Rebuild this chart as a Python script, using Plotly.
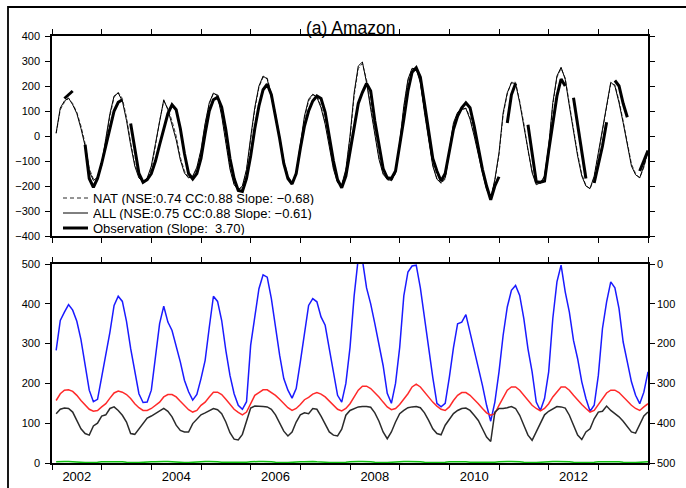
import numpy as np
import plotly.graph_objects as go

# Monthly time axis (decimal years), Feb 2002 .. Jan 2014
months = np.arange(1, 145)
t = 2002 + months / 12.0

# ---- upper panel: TWS anomaly (mm) ----
nat = [10, 105, 135, 150, 130, 95, 40, -30, -130, -172, -170, -120,
       -20, 80, 155, 175, 150, 75, -25, -110, -160, -185, -175, -130,
       -40, 60, 140, 110, 60, 0, -85, -140, -165, -165, -130, -60,
       45, 128, 170, 165, 90, -15, -125, -190, -218, -205, -140, -15,
       105, 195, 235, 232, 170, 90, 0, -95, -160, -185, -150, -50,
       70, 140, 165, 160, 120, 55, -30, -125, -180, -198, -140, -10,
       160, 270, 290, 225, 120, 10, -85, -148, -175, -180, -150, -35,
       110, 220, 268, 270, 220, 100, -5, -112, -170, -190, -172, -60,
       45, 90, 105, 112, 75, 10, -70, -140, -208, -245, -180, -75,
       85, 168, 215, 215, 140, 50, -58, -140, -190, -190, -165, -50,
       125, 235, 270, 232, 128, 22, -72, -152, -198, -212, -165, -75,
       20, 125, 210, 205, 140, 60, -32, -112, -150, -168, -125, -65]

all_forcing = [12, 112, 140, 152, 125, 90, 30, -40, -140, -178, -165, -110,
               -10, 90, 160, 172, 140, 62, -35, -120, -168, -182, -168, -120,
               -30, 65, 145, 105, 50, -15, -95, -148, -168, -160, -125, -55,
               50, 133, 172, 160, 80, -25, -133, -195, -215, -200, -133, -5,
               115, 200, 240, 228, 160, 80, -13, -107, -167, -187, -147, -40,
               80, 147, 167, 155, 113, 47, -40, -133, -187, -195, -133, 0,
               173, 280, 296, 213, 107, 0, -93, -153, -173, -178, -147, -27,
               120, 227, 271, 267, 213, 93, -13, -120, -173, -187, -168, -50,
               53, 95, 107, 110, 67, 0, -80, -147, -213, -250, -173, -67,
               93, 173, 213, 210, 133, 40, -67, -147, -195, -187, -160, -40,
               133, 240, 275, 227, 120, 13, -80, -160, -200, -210, -160, -67,
               27, 133, 215, 200, 133, 53, -40, -120, -155, -167, -120, -60]

observation = [None, None, 150, 165, 180, None, None, -35, -170, -205, -170, -110,
               -40, 20, 100, 135, 145, None, 50, -60, -150, -185, -175, -150,
               -100, -35, 25, 90, 125, 105, 30, -70, -150, -172, -150, -90,
               10, 100, 145, 155, 115, 25, -90, -170, -218, -222, -170, -80,
               30, 120, 185, 207, 165, 80, -10, -110, -170, -192, -150, -50,
               40, 100, 140, 160, 150, 95, 0, -100, -175, -207, -160, -60,
               40, 130, 175, 210, 180, 60, -35, -130, -167, -170, -140, -40,
               67, 180, 255, 273, 235, 130, 10, -90, -140, -180, -150, -60,
               27, 80, 113, 133, 113, 40, -53, -133, -200, -255, -200, -163,
               None, 52, 165, 210, None, None, 45, -70, -183, -185, -180, -60,
               60, 160, 228, 200, None, 153, 45, -65, -170, None, -188, -120,
               -40, 55, None, 222, 200, 130, 75, None, None, -140, -100, -58]

# ---- lower panel: basin water budget terms ----
blue_series = [283, 358, 379, 398, 384, 356, 310, 248, 183, 154, 160, 216,
               270, 329, 396, 419, 406, 356, 288, 228, 174, 152, 153, 183,
               262, 350, 394, 354, 333, 296, 254, 208, 179, 158, 172, 212,
               258, 341, 419, 406, 358, 283, 220, 174, 145, 135, 154, 296,
               371, 438, 473, 467, 413, 338, 271, 212, 183, 163, 187, 254,
               329, 396, 413, 405, 367, 346, 287, 229, 170, 153, 200, 290,
               420, 515, 510, 440, 400, 350, 300, 245, 175, 150, 200, 290,
               420, 480, 495, 497, 440, 370, 290, 215, 150, 141, 150, 215,
               290, 350, 354, 373, 329, 287, 245, 195, 145, 105, 153, 229,
               321, 392, 434, 446, 421, 363, 287, 229, 153, 132, 162, 229,
               363, 455, 497, 430, 379, 308, 262, 204, 162, 130, 145, 220,
               338, 405, 455, 440, 388, 304, 254, 204, 170, 149, 178, 229]

red_series = [157, 174, 183, 184, 180, 170, 157, 145, 135, 130, 132, 141,
              149, 163, 176, 181, 178, 172, 162, 149, 139, 132, 132, 137,
              145, 153, 166, 172, 172, 166, 155, 145, 134, 128, 132, 145,
              153, 166, 178, 178, 172, 160, 147, 135, 127, 121, 128, 149,
              170, 177, 184, 184, 178, 170, 160, 149, 139, 132, 137, 147,
              159, 165, 173, 177, 173, 166, 155, 145, 135, 131, 137, 149,
              166, 183, 193, 193, 187, 177, 166, 153, 141, 134, 137, 147,
              160, 174, 191, 198, 191, 178, 166, 153, 143, 135, 132, 141,
              157, 170, 177, 177, 170, 160, 149, 137, 126, 120, 124, 145,
              166, 183, 191, 191, 183, 170, 157, 145, 137, 131, 137, 149,
              166, 180, 191, 191, 183, 170, 157, 147, 137, 128, 132, 147,
              162, 176, 183, 183, 177, 166, 155, 145, 137, 132, 141, 149]

black_series = [124, 135, 138, 137, 128, 105, 86, 74, 70, 93, 100, 118,
                121, 137, 141, 132, 120, 103, 74, 72, 86, 99, 113, 118,
                124, 132, 137, 130, 116, 95, 82, 78, 78, 99, 111, 121,
                126, 132, 137, 134, 124, 103, 76, 60, 58, 72, 105, 138,
                143, 143, 142, 141, 135, 121, 101, 80, 68, 78, 103, 121,
                126, 124, 137, 135, 118, 97, 78, 70, 68, 85, 120, 132,
                137, 141, 142, 142, 140, 126, 105, 78, 61, 78, 103, 124,
                132, 139, 141, 142, 139, 126, 107, 86, 74, 71, 95, 111,
                124, 132, 137, 138, 132, 120, 107, 86, 65, 54, 128, 137,
                137, 139, 142, 137, 120, 95, 70, 57, 78, 103, 121, 130,
                137, 142, 141, 138, 120, 95, 70, 59, 78, 86, 111, 128,
                130, 143, 132, 124, 116, 105, 90, 78, 75, 95, 118, 128]

green_series = [3, 4, 4, 4, 3, 2, 2, 1, 1, 1, 2, 3,
                3, 4, 4, 3, 3, 2, 1, 1, 1, 2, 2, 3,
                3, 4, 4, 4, 3, 2, 1, 1, 1, 2, 2, 3,
                4, 4, 4, 3, 2, 2, 1, 1, 1, 1, 2, 3,
                4, 4, 4, 4, 3, 2, 1, 1, 1, 2, 2, 3,
                3, 4, 4, 3, 3, 2, 1, 1, 1, 1, 2, 3,
                4, 4, 4, 4, 3, 2, 1, 1, 1, 2, 2, 3,
                4, 4, 4, 3, 3, 2, 1, 1, 1, 1, 2, 3,
                3, 4, 4, 3, 2, 2, 1, 1, 1, 1, 2, 3,
                4, 4, 4, 4, 3, 2, 1, 1, 1, 2, 2, 3,
                4, 4, 4, 3, 3, 2, 1, 1, 1, 1, 2, 3,
                3, 4, 4, 4, 3, 2, 1, 1, 1, 2, 2, 3]

legend_nat = "NAT (NSE:0.74 CC:0.88 Slope: \u22120.68)"
legend_all = "ALL (NSE:0.75 CC:0.88 Slope: \u22120.61)"
legend_obs = "Observation (Slope:\u00a0 3.70)"

year_ticks = list(range(2002, 2015))
label_years = [2002, 2004, 2006, 2008, 2010, 2012]

FONT = "Liberation Sans, Arial, sans-serif"

# pixel -> paper helpers for the figure frame and the key
L, R, T, B = 52, 38, 36, 25
W, H = 686, 488
PW, PH = W - L - R, H - T - B


def px_x(px):
    return (px - L) / PW


def px_y(py):
    return (H - B - py) / PH


nat_style = dict(color="#2a2a2a", width=0.9, dash="4px,2px")
all_style = dict(color="black", width=1.0)
obs_style = dict(color="black", width=3.0)

fig = go.Figure()

# upper panel
fig.add_trace(go.Scatter(x=t, y=nat, name=legend_nat, mode="lines",
                         line=nat_style, xaxis="x", yaxis="y"))
fig.add_trace(go.Scatter(x=t, y=all_forcing, name=legend_all, mode="lines",
                         line=all_style, xaxis="x", yaxis="y"))
fig.add_trace(go.Scatter(x=t, y=observation, name=legend_obs, mode="lines",
                         line=obs_style, connectgaps=False, xaxis="x", yaxis="y"))

# lower panel
for ys, col in [(blue_series, "#1a1aff"), (red_series, "#ff2a2a"),
                (black_series, "#2b2b2b"), (green_series, "#10c010")]:
    fig.add_trace(go.Scatter(x=t, y=ys, mode="lines",
                             line=dict(color=col, width=1.5),
                             xaxis="x2", yaxis="y2"))

# reversed right-hand scale of the lower panel (carries no marks)
fig.add_trace(go.Scatter(x=[], y=[], mode="lines", hoverinfo="skip",
                         xaxis="x2", yaxis="y3"))

axis_common = dict(showline=True, linecolor="black", linewidth=1.6,
                   showgrid=False, zeroline=False, ticks="outside",
                   ticklen=5, tickwidth=1.2, tickcolor="black",
                   automargin=False)

top_y0 = px_y(236)
bot_y1 = px_y(264)

# hand-placed key inside the upper panel
key_rows = [(198, legend_nat, dict(color="#2a2a2a", width=1.0, dash="4px,3px")),
            (213, legend_all, dict(color="black", width=1.0)),
            (228, legend_obs, dict(color="black", width=3.0))]
key_shapes = [dict(type="line", xref="paper", yref="paper",
                   x0=px_x(63), x1=px_x(88), y0=px_y(py), y1=px_y(py), line=ln)
              for py, _, ln in key_rows]
key_texts = [dict(text=txt, x=px_x(92), y=px_y(py), xref="paper", yref="paper",
                  xanchor="left", yanchor="middle", showarrow=False,
                  height=13, valign="middle", borderpad=0,
                  font=dict(size=13, family=FONT))
             for py, txt, _ in key_rows]

fig.update_layout(
    width=W, height=H,
    margin=dict(l=L, r=R, t=T, b=B, autoexpand=False),
    paper_bgcolor="white", plot_bgcolor="white",
    font=dict(family=FONT, color="black"),
    showlegend=False,
    xaxis=dict(domain=[0, 1], anchor="y", range=[2002, 2014],
               tickvals=year_ticks, showticklabels=False, mirror="ticks",
               **axis_common),
    yaxis=dict(domain=[top_y0, 1], anchor="x", range=[-400, 400],
               tickvals=list(range(-400, 401, 100)), mirror="ticks",
               ticklabelstandoff=3, tickfont=dict(size=11), **axis_common),
    xaxis2=dict(domain=[0, 1], anchor="y2", range=[2002, 2014],
                tickvals=[y + 0.5 for y in label_years],
                ticktext=[str(y) for y in label_years],
                tickfont=dict(size=13), mirror="ticks", ticklabelstandoff=1,
                minor=dict(tickvals=year_ticks, ticks="outside", ticklen=5,
                           tickwidth=1.2, tickcolor="black"),
                **{**axis_common, "ticks": "", "ticklen": 0}),
    yaxis2=dict(domain=[0, bot_y1], anchor="x2", range=[0, 500],
                tickvals=list(range(0, 501, 100)), mirror=True,
                ticklabelstandoff=3, tickfont=dict(size=11), **axis_common),
    yaxis3=dict(overlaying="y2", anchor="x2", side="right", range=[500, 0],
                tickvals=list(range(0, 501, 100)),
                tickfont=dict(size=11), **axis_common),
    annotations=[dict(text="(a) Amazon", x=px_x(350), y=1, xref="paper", yref="paper",
                      xanchor="center", yanchor="bottom", yshift=-4, showarrow=False,
                      font=dict(size=17.5, family=FONT))] + key_texts,
    shapes=[dict(type="rect", xref="paper", yref="paper",
                 x0=px_x(8), x1=px_x(700), y0=px_y(510), y1=px_y(7),
                 line=dict(color="black", width=1.8), layer="below")] + key_shapes,
)

fig.write_html("out.html")
